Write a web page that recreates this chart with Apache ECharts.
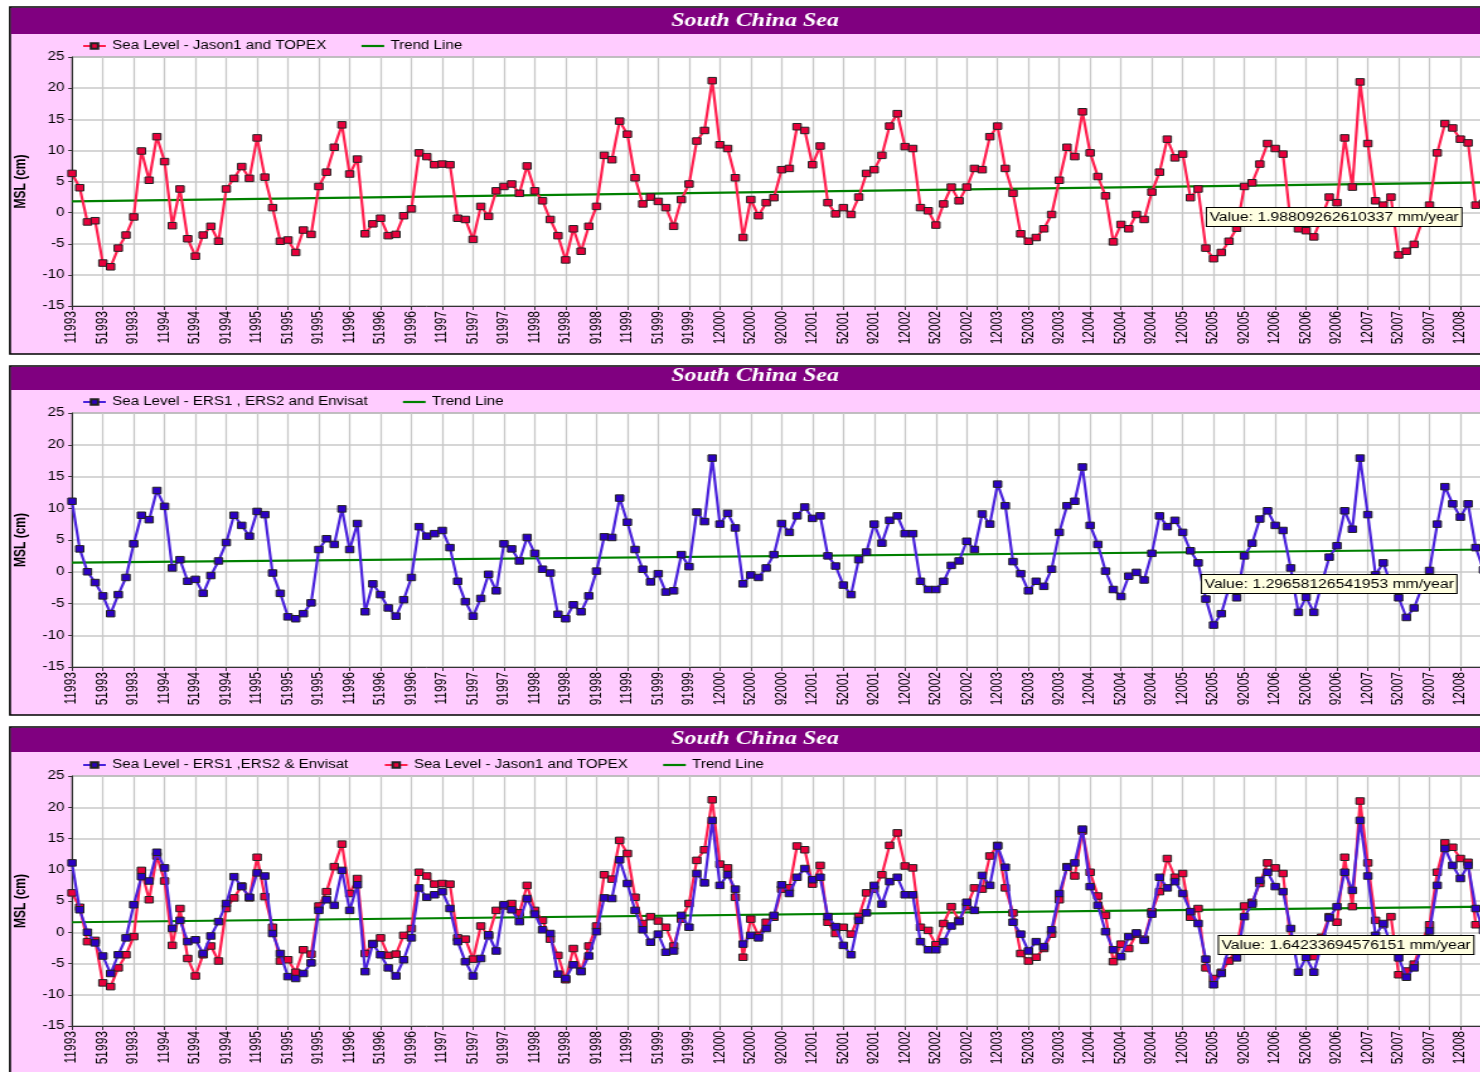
<!DOCTYPE html>
<html><head><meta charset="utf-8">
<script src="https://cdn.jsdelivr.net/npm/echarts@6/dist/echarts.min.js"></script>
<style>
html,body{margin:0;padding:0;background:#fff;overflow:hidden;width:1480px;height:1072px;position:relative;}
.c{position:absolute;left:0;width:1192px;height:360px;transform:scaleX(1.26);transform-origin:0 0;}
</style></head><body>
<div id="c1" class="c" style="top:0px"></div>
<div id="c2" class="c" style="top:360px"></div>
<div id="c3" class="c" style="top:720px"></div>
<script>
// ---------- DATA ----------
const startYear = 1993;
const monthCount = 185; // Jan 1993 .. May 2008
const categories = [];
for (let i = 0; i < monthCount; i++) categories.push(String(i % 12 + 1) + String(startYear + Math.floor(i / 12)));

const yMin = -15, yMax = 25, yStep = 5;

const jasonTopex = [
  6.3, 4.0, -1.5, -1.3, -8.1, -8.7, -5.7, -3.6, -0.7, 9.9, 5.2, 12.2,
  8.2, -2.1, 3.8, -4.2, -7.0, -3.6, -2.2, -4.6, 3.8, 5.5, 7.4, 5.5,
  12.0, 5.7, 0.8, -4.6, -4.4, -6.4, -2.8, -3.5, 4.2, 6.5, 10.5, 14.1,
  6.2, 8.6, -3.4, -1.8, -0.9, -3.7, -3.5, -0.5, 0.6, 9.6, 9.0, 7.7,
  7.8, 7.7, -0.9, -1.1, -4.3, 1.0, -0.6, 3.5, 4.2, 4.6, 3.1, 7.5,
  3.5, 1.9, -1.1, -3.7, -7.6, -2.6, -6.2, -2.2, 1.0, 9.2, 8.5, 14.7,
  12.6, 5.6, 1.4, 2.5, 1.8, 0.8, -2.2, 2.1, 4.6, 11.5, 13.2, 21.2,
  10.9, 10.3, 5.6, -4.0, 2.1, -0.5, 1.6, 2.4, 6.9, 7.1, 13.8, 13.2,
  7.7, 10.7, 1.6, -0.2, 0.8, -0.3, 2.5, 6.3, 6.9, 9.2, 13.9, 15.9,
  10.6, 10.3, 0.8, 0.3, -2.0, 1.4, 4.1, 1.9, 4.1, 7.1, 6.9, 12.2,
  13.9, 7.1, 3.1, -3.4, -4.6, -4.0, -2.6, -0.3, 5.2, 10.5, 9.0, 16.2,
  9.6, 5.8, 2.7, -4.7, -1.9, -2.6, -0.3, -1.1, 3.3, 6.5, 11.8, 8.8,
  9.4, 2.4, 3.8, -5.7, -7.4, -6.4, -4.6, -2.5, 4.2, 4.8, 7.8, 11.1,
  10.3, 9.4, -1.5, -2.6, -2.9, -3.9, -0.8, 2.5, 1.6, 12.0, 4.1, 21.0,
  11.1, 1.9, 1.2, 2.5, -6.8, -6.2, -5.1, -1.5, 1.2, 9.6, 14.3, 13.6,
  11.8, 11.2, 1.2, 1.5
];

const ersEnvisat = [
  11.1, 3.6, 0.0, -1.7, -3.8, -6.6, -3.6, -0.9, 4.4, 8.9, 8.2, 12.8,
  10.3, 0.6, 1.9, -1.5, -1.2, -3.4, -0.6, 1.7, 4.6, 8.9, 7.3, 5.6,
  9.5, 9.0, -0.2, -3.4, -7.1, -7.4, -6.6, -4.9, 3.5, 5.2, 4.3, 9.9,
  3.5, 7.6, -6.3, -1.9, -3.6, -5.7, -7.0, -4.4, -0.9, 7.1, 5.6, 6.0,
  6.5, 3.8, -1.5, -4.7, -7.0, -4.2, -0.4, -3.0, 4.4, 3.6, 1.7, 5.4,
  2.9, 0.4, -0.2, -6.7, -7.4, -5.2, -6.3, -3.8, 0.1, 5.5, 5.4, 11.6,
  7.8, 3.5, 0.4, -1.6, -0.3, -3.2, -3.0, 2.7, 0.8, 9.4, 7.9, 17.9,
  7.5, 9.2, 6.9, -1.9, -0.5, -0.9, 0.6, 2.7, 7.6, 6.2, 8.8, 10.2,
  8.4, 8.8, 2.5, 0.9, -2.1, -3.6, 1.9, 3.1, 7.5, 4.5, 8.1, 8.8,
  6.0, 6.0, -1.5, -2.8, -2.8, -1.5, 1.0, 1.7, 4.8, 3.5, 9.1, 7.5,
  13.8, 10.4, 1.6, -0.3, -3.0, -1.5, -2.3, 0.4, 6.2, 10.4, 11.1, 16.5,
  7.3, 4.3, 0.1, -2.8, -3.9, -0.7, -0.1, -1.3, 2.9, 8.8, 7.1, 8.1,
  6.2, 3.3, 1.4, -4.3, -8.4, -6.6, -2.5, -4.1, 2.5, 4.5, 8.3, 9.6,
  7.3, 6.5, 0.6, -6.4, -4.0, -6.4, -2.0, 2.3, 4.1, 9.6, 6.7, 17.9,
  9.0, -0.5, 1.4, -2.0, -4.1, -7.2, -5.7, -2.5, 0.2, 7.5, 13.4, 10.7,
  8.6, 10.7, 3.8, 0.3
];

// trend line end values (cm) at first and last category
const trendJason = [1.8, 4.85];
const trendErs = [1.45, 3.5];
const trendBoth = [1.6, 4.1];

const titleText = 'South China Sea';
const nameJason = 'Sea Level - Jason1 and TOPEX';
const nameErs = 'Sea Level - ERS1 , ERS2 and Envisat';
const nameErs3 = 'Sea Level - ERS1 ,ERS2 & Envisat';
const nameTrend = 'Trend Line';
const rateJason = 'Value: 1.98809262610337 mm/year';
const rateErs = 'Value: 1.29658126541953 mm/year';
const rateBoth = 'Value: 1.64233694576151 mm/year';

// ---------- STYLE / LAYOUT ----------
const S = 1.26;
const X = px => px / S;
const FONT = '"Liberation Sans", Arial, sans-serif';
const RED_LINE = '#ff1f4f', RED_FILL = '#e8003c';
const BLUE_LINE = '#4a22dc', BLUE_FILL = '#2c00c4';
const LINE_ICON = 'path://M0,0L18,0L18,2.2L0,2.2Z';

function dataSeries(name, data, line, fill, z) {
  return {
    type: 'line', name: name, data: data, z: z,
    symbol: 'rect', symbolSize: 6.5, showSymbol: true, showAllSymbol: true,
    lineStyle: { color: line, width: 2.2 },
    itemStyle: { color: fill, borderColor: '#222', borderWidth: 1 },
    emphasis: { disabled: true }, animation: false
  };
}
function trendSeries(ends) {
  return {
    type: 'line', name: nameTrend, z: 2,
    data: [[0, ends[0]], [monthCount - 1, ends[1]]],
    symbol: 'none', showSymbol: false,
    lineStyle: { color: '#008000', width: 2.2 },
    itemStyle: { color: '#008000' },
    emphasis: { disabled: true }, animation: false
  };
}

function makeOption(p) {
  return {
    animation: false,
    graphic: [
      { type: 'rect', z: -10, shape: { x: X(10), y: p.frameTop, width: 1300, height: p.frameH },
        style: { fill: '#ffccff', stroke: '#000', lineWidth: 1.6 } },
      { type: 'rect', z: -9, shape: { x: X(11), y: p.barTop, width: 1300, height: p.barH },
        style: { fill: '#800080' } },
      { type: 'text', z: 10, x: X(755), y: p.titleY,
        style: { text: titleText, font: 'italic bold 19px "Liberation Serif", "Times New Roman", serif',
                 fill: '#ffffff', align: 'center', verticalAlign: 'middle' } },
      { type: 'text', z: 100, x: X(p.boxX), y: p.boxY,
        style: { text: p.boxText, font: '12.5px ' + FONT, fill: '#000',
                 backgroundColor: '#ffffe1', borderColor: '#000', borderWidth: 1, padding: [3, 2, 2, 2] } }
    ],
    legend: {
      left: 65, top: p.legendTop, padding: 0, itemGap: 28, itemWidth: 18, itemHeight: 7,
      textStyle: { fontFamily: FONT, fontSize: 12, color: '#000' },
      data: p.legend.map(n => n === nameTrend ? { name: n, icon: LINE_ICON } : n),
      selectedMode: false
    },
    grid: { left: X(72), right: 8.5, top: p.gridTop, height: p.gridH,
            show: true, backgroundColor: '#ffffff', borderColor: '#555', borderWidth: 1 },
    xAxis: {
      type: 'category', data: categories, boundaryGap: false,
      axisLine: { show: true, onZero: false, lineStyle: { color: '#333', width: 1 } },
      axisTick: { show: true, interval: 3, length: 4, lineStyle: { color: '#333' } },
      axisLabel: { interval: 3, rotate: 90, fontFamily: FONT, fontSize: 12, color: '#000', margin: 5 },
      splitLine: { show: true, interval: 3, lineStyle: { color: '#c8c8c8', width: 1.3 } }
    },
    yAxis: {
      type: 'value', min: yMin, max: yMax, interval: yStep,
      name: 'MSL (cm)', nameLocation: 'middle', nameGap: 33,
      nameTextStyle: { fontFamily: FONT, fontSize: 12, fontWeight: 'bold', color: '#000' },
      axisLine: { show: true, lineStyle: { color: '#333', width: 1 } },
      axisTick: { show: true, length: 3, lineStyle: { color: '#333' } },
      axisLabel: { fontFamily: FONT, fontSize: 12, color: '#000', margin: 6 },
      splitLine: { show: true, lineStyle: { color: '#c8c8c8', width: 1.6 } }
    },
    series: p.series
  };
}

const panels = [
  { el: 'c1', frameTop: 7, frameH: 347, barTop: 8, barH: 26, titleY: 21, legendTop: 40,
    gridTop: 57, gridH: 249, boxX: 1207, boxY: 208, boxText: rateJason,
    legend: [nameJason, nameTrend],
    series: [trendSeries(trendJason), dataSeries(nameJason, jasonTopex, RED_LINE, RED_FILL, 3)] },
  { el: 'c2', frameTop: 6, frameH: 349, barTop: 7, barH: 23, titleY: 16, legendTop: 36,
    gridTop: 53, gridH: 254, boxX: 1202, boxY: 215, boxText: rateErs,
    legend: [nameErs, nameTrend],
    series: [trendSeries(trendErs), dataSeries(nameErs, ersEnvisat, BLUE_LINE, BLUE_FILL, 3)] },
  { el: 'c3', frameTop: 7, frameH: 400, barTop: 8, barH: 24, titleY: 19, legendTop: 39,
    gridTop: 56, gridH: 250, boxX: 1219, boxY: 216, boxText: rateBoth,
    legend: [nameErs3, nameJason, nameTrend],
    series: [trendSeries(trendBoth), dataSeries(nameJason, jasonTopex, RED_LINE, RED_FILL, 3),
             dataSeries(nameErs3, ersEnvisat, BLUE_LINE, BLUE_FILL, 4)] }
];

panels.forEach(p => {
  const chart = echarts.init(document.getElementById(p.el), null, { renderer: 'canvas' });
  chart.setOption(makeOption(p));
});
</script>
</body></html>
